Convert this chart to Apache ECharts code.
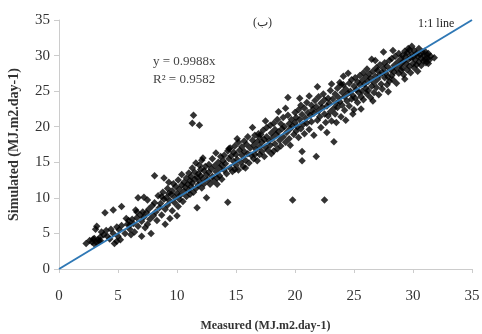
<!DOCTYPE html>
<html>
<head>
<meta charset="utf-8">
<script src="https://cdn.jsdelivr.net/npm/echarts@6/dist/echarts.min.js"></script>
<style>
  html, body { margin: 0; padding: 0; background: #fff; }
  #chart { width: 482px; height: 334px; }
</style>
</head>
<body>
<div id="chart"></div>
<script>
// measured vs simulated radiation, [measured, simulated]
var observations = [
  [2.3,3.6],[2.6,4.0],[2.8,3.8],[3.0,4.3],[3.1,5.6],[3.2,6.0],[3.0,3.5],[3.3,4.1],[3.4,3.9],[3.5,4.5],
  [3.6,5.2],[3.8,4.8],[3.9,7.9],[4.0,5.4],[4.3,4.2],[4.6,5.0],[4.7,3.6],[4.6,8.3],[4.9,3.9],[5.0,4.6],
  [5.1,5.5],[5.2,4.1],[5.3,8.8],[5.3,6.1],[3.2,3.7],[3.5,4.0],[2.9,4.2],[4.1,4.6],[4.4,5.6],[4.9,5.9],
  [5.6,5.0],[5.8,6.3],[5.9,6.8],[6.0,5.6],[6.1,4.8],[6.2,7.0],[6.3,6.4],[6.4,5.2],[6.5,8.3],[6.6,7.2],
  [6.7,6.0],[6.7,10.0],[6.9,7.6],[7.0,4.6],[7.0,6.7],[7.1,8.0],[7.2,7.3],[7.3,5.8],[7.4,7.9],[7.5,6.3],
  [7.5,9.7],[7.6,8.4],[7.7,7.0],[7.8,5.0],[7.9,8.9],[8.1,13.1],[8.0,7.5],[8.1,9.3],[8.2,8.0],[8.3,6.8],
  [8.4,10.3],[8.5,8.6],[5.7,7.1],[6.0,6.2],[6.6,8.0],[7.2,10.1],
  [8.6,9.2],[8.7,7.6],[8.8,10.8],[8.9,12.8],[8.9,9.8],[9.0,6.3],[9.0,8.4],[9.1,10.0],[9.2,11.3],[9.2,9.0],
  [9.3,12.2],[9.4,9.6],[9.4,7.1],[9.5,10.5],[9.6,11.0],[9.6,8.2],[9.7,12.0],[9.8,10.1],[9.8,9.3],[9.9,11.6],
  [10.0,10.6],[10.0,7.5],[10.1,12.5],[10.2,9.8],[10.2,11.2],[10.3,10.4],[10.4,13.3],[10.4,11.8],[10.5,9.5],[10.6,12.2],
  [10.6,10.9],[10.7,11.5],[10.8,12.8],[10.8,10.2],[10.9,11.9],[11.0,13.5],[11.0,11.1],[8.7,10.2],[9.3,10.6],[10.1,8.8],
  [11.1,12.4],[11.1,10.5],[11.2,13.0],[11.2,11.6],[11.3,14.2],[11.3,12.1],[11.4,10.8],[11.5,13.6],[11.5,12.6],[11.6,11.3],
  [11.6,14.9],[11.7,8.6],[11.7,12.9],[11.8,13.4],[11.8,11.8],[11.9,12.3],[12.0,14.0],[12.0,13.1],[12.1,11.4],[12.1,15.3],
  [12.2,12.7],[12.3,13.8],[12.3,12.0],[12.4,14.4],[12.5,10.0],[12.5,13.2],[12.6,12.5],[12.7,14.7],[12.7,13.6],[12.8,11.9],
  [12.9,14.1],[13.0,13.0],[13.0,15.5],[13.1,12.4],[13.2,14.5],[13.3,13.7],[13.3,16.3],[13.4,12.8],[13.5,15.0],[13.6,14.2],
  [13.6,13.1],[13.7,15.8],[13.8,14.6],[13.8,12.6],[13.9,15.2],[14.0,13.9],[14.0,16.0],[12.2,15.6],[11.9,14.6],[13.4,11.9],
  [11.4,21.6],[11.3,20.5],[11.9,20.2],
  [14.1,14.8],[14.2,13.4],[14.3,9.4],[14.3,16.6],[14.4,15.5],[14.5,14.2],[14.5,17.0],[14.6,15.9],[14.7,13.7],[14.8,16.4],
  [14.8,15.1],[14.9,17.3],[15.0,14.6],[15.0,16.1],[15.1,15.4],[15.2,17.8],[15.2,13.9],[15.3,16.7],[15.4,15.0],[15.5,17.2],
  [15.5,16.0],[15.6,14.4],[15.7,18.0],[15.7,16.5],[15.8,15.3],[15.9,17.5],[16.0,16.2],[16.0,18.6],[16.1,14.9],[16.2,17.0],
  [16.4,19.9],[16.3,16.0],[16.4,18.1],[16.5,17.4],[16.5,15.5],[16.6,18.8],[16.7,16.8],[16.8,17.9],[16.8,15.2],[16.9,19.0],
  [17.0,17.2],[17.0,16.1],[14.4,16.9],[15.1,18.3],[15.8,14.2],[16.6,16.1],[14.9,14.0],[17.0,18.5],
  [17.1,18.9],[17.2,16.5],[17.2,17.8],[17.3,19.5],[17.4,18.2],[17.4,15.8],[17.5,17.1],[17.6,19.9],[17.6,18.6],[17.7,16.7],
  [17.8,18.0],[17.9,20.2],[17.9,17.4],[18.0,19.1],[18.0,16.2],[18.1,18.4],[18.2,20.5],[18.3,17.6],[18.3,19.6],[18.4,18.9],
  [18.5,16.9],[18.5,21.0],[18.6,19.3],[18.7,18.1],[18.8,20.4],[18.8,17.3],[18.9,19.7],[19.0,18.6],[19.0,21.3],[19.1,20.0],
  [19.2,17.8],[19.3,19.2],[19.4,24.1],[19.4,21.6],[19.5,20.4],[19.5,18.3],[19.6,19.7],[19.7,21.0],[19.8,9.7],[19.8,20.1],
  [19.9,18.9],[20.0,22.0],[20.0,20.6],[17.5,20.8],[18.6,22.1],[19.2,22.6],[18.2,16.6],[19.6,17.4],
  [20.1,19.4],[20.1,21.3],[20.2,20.0],[20.3,22.4],[20.3,18.5],[20.4,21.0],[20.5,19.7],[20.5,23.0],[20.6,16.5],[20.6,15.2],
  [20.6,21.7],[20.7,20.3],[20.8,22.6],[20.8,19.0],[20.9,21.2],[21.0,23.4],[21.0,20.5],[21.1,22.0],[21.2,24.3],[21.2,19.6],
  [21.3,21.6],[21.4,23.0],[21.4,20.7],[21.5,22.4],[21.6,18.8],[21.6,21.9],[21.7,23.7],[21.8,15.8],[21.8,22.8],[21.9,20.9],
  [22.0,22.2],[22.0,24.2],[22.1,21.4],[22.2,23.3],[22.2,19.9],[22.3,22.7],[22.4,24.6],[22.5,9.7],[22.5,21.8],[22.5,23.8],
  [22.6,20.6],[22.7,22.9],[22.8,24.0],[22.8,21.5],[22.9,23.3],[23.0,25.1],[23.0,22.1],[23.1,20.8],[23.2,23.9],[23.3,17.9],
  [23.3,22.6],[20.4,24.0],[21.9,25.6],[23.1,26.0],[22.7,19.2],
  [23.4,24.6],[23.4,21.8],[23.5,23.3],[23.6,25.4],[23.6,22.7],[23.7,24.1],[23.8,26.2],[23.8,23.5],[23.9,21.4],[24.0,24.8],
  [24.0,23.0],[24.1,25.9],[24.2,24.2],[24.2,22.3],[24.3,25.3],[24.4,23.6],[24.5,27.5],[24.5,24.7],[24.6,26.1],[24.6,22.9],
  [24.7,25.0],[24.8,23.9],[24.8,26.6],[24.9,24.4],[25.0,25.7],[25.0,22.4],[25.1,26.9],[25.1,24.0],[25.2,25.2],[25.3,26.3],
  [25.3,23.4],[25.4,24.8],[25.5,27.2],[25.5,25.9],[25.6,24.2],[25.7,26.5],[25.7,25.0],[25.8,27.6],[25.8,23.8],[25.9,26.0],
  [26.0,25.4],[26.0,27.0],[26.1,24.6],[23.5,20.6],[24.3,20.9],[24.9,21.8],[25.6,22.5],[26.1,28.1],[24.1,27.1],[23.9,25.9],
  [26.2,26.4],[26.2,25.1],[26.3,27.4],[26.4,24.1],[26.4,26.8],[26.5,29.5],[26.5,25.7],[26.6,27.8],[26.7,26.2],[26.7,24.8],
  [26.8,27.1],[26.9,28.3],[26.9,25.5],[27.0,26.7],[27.0,27.9],[27.1,24.5],[27.2,27.3],[27.2,28.7],[27.3,26.0],[27.4,27.6],
  [27.4,25.3],[27.5,28.2],[27.6,26.9],[27.6,29.0],[27.7,27.5],[27.8,25.9],[27.8,28.5],[27.9,27.0],[28.0,29.3],[28.0,26.4],
  [28.1,28.0],[28.2,27.2],[28.2,29.6],[28.3,26.6],[28.4,28.6],[28.4,27.7],[28.5,29.9],[28.6,28.2],[28.6,26.1],[28.7,29.1],
  [28.8,27.5],[28.8,30.3],[28.9,28.7],[29.0,27.9],[29.0,29.6],[26.8,29.3],[27.5,30.5],[28.3,30.7],[26.6,23.6],[27.9,24.9],
  [29.1,28.3],[29.1,30.0],[29.2,29.2],[29.2,27.3],[29.3,30.6],[29.4,28.8],[29.4,29.9],[29.5,28.0],[29.5,30.4],[29.6,29.4],
  [29.7,28.5],[29.7,30.8],[29.8,29.7],[29.8,27.6],[29.9,30.2],[30.0,28.9],[30.0,29.8],[30.1,30.7],[30.1,28.3],[30.2,29.4],
  [30.3,30.3],[30.3,28.7],[30.4,29.9],[30.5,31.0],[30.5,29.1],[30.6,30.1],[30.7,28.6],[30.7,29.6],[30.8,30.5],[30.9,29.2],
  [30.9,30.0],[31.0,29.5],[31.0,30.6],[31.1,29.0],[31.2,30.1],[31.2,29.6],[31.3,30.3],[31.4,29.4],[31.5,29.9],[31.8,29.7],
  [29.9,31.3],[29.6,31.0],[30.4,27.8],[31.3,28.9],[29.3,26.7]
];
var oneToOne = [[0, 0], [35, 35]];
var axisMin = 0, axisMax = 35, axisStep = 5;
var equationLines = ['y = 0.9988x', 'R\u00b2 = 0.9582'];

var serif = '"Liberation Serif", "DejaVu Serif", serif';
var myChart = echarts.init(document.getElementById('chart'));
var option = {
  animation: false,
  grid: { left: 59, right: 10, top: 20, bottom: 65, outerBoundsMode: 'none' },
  xAxis: {
    type: 'value', min: axisMin, max: axisMax, interval: axisStep,
    name: 'Measured (MJ.m2.day-1)', nameLocation: 'middle', nameGap: 51,
    nameTextStyle: { fontFamily: serif, fontSize: 12, fontWeight: 'bold', color: '#333' },
    axisLine: { lineStyle: { color: '#cccccc' } },
    axisTick: { show: true, length: 4, lineStyle: { color: '#cccccc' } },
    axisLabel: { fontFamily: serif, fontSize: 15, color: '#333', margin: 20 },
    splitLine: { show: false }
  },
  yAxis: {
    type: 'value', min: axisMin, max: axisMax, interval: axisStep,
    name: 'Simulated (MJ.m2.day-1)', nameLocation: 'middle', nameGap: 38,
    nameTextStyle: { fontFamily: serif, fontSize: 14, fontWeight: 'bold', color: '#333' },
    axisLine: { show: true, lineStyle: { color: '#cccccc' } },
    axisTick: { show: true, length: 5, lineStyle: { color: '#cccccc' } },
    axisLabel: { fontFamily: serif, fontSize: 15, color: '#333', margin: 9 },
    splitLine: { show: false }
  },
  graphic: [
    { type: 'text', left: 253, top: 17, style: { text: '(\u0628)', font: '12px ' + serif, fill: '#333' } },
    { type: 'text', left: 418, top: 18, style: { text: '1:1 line', font: '12px ' + serif, fill: '#222' } },
    { type: 'text', left: 153, top: 55, style: { text: equationLines[0], font: '13px ' + serif, fill: '#444' } },
    { type: 'text', left: 153, top: 73, style: { text: equationLines[1], font: '13px ' + serif, fill: '#444' } }
  ],
  series: [
    {
      type: 'scatter',
      data: observations,
      symbol: 'diamond',
      symbolSize: 7.5,
      itemStyle: { color: '#000' },
      z: 2
    },
    {
      type: 'line',
      data: oneToOne,
      symbol: 'none',
      lineStyle: { color: '#2f78b5', width: 2 },
      z: 3
    }
  ]
};
myChart.setOption(option, true);
</script>
</body>
</html>
